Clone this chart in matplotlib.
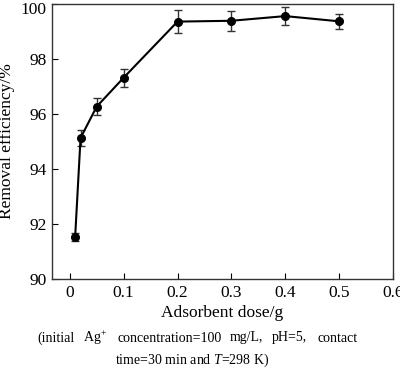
import matplotlib
matplotlib.use("Agg")
import matplotlib.pyplot as plt
import matplotlib.transforms as mtransforms

plt.rcParams['font.family'] = ['Liberation Serif', 'DejaVu Serif']
plt.rcParams['mathtext.fontset'] = 'custom'
plt.rcParams['mathtext.rm'] = 'Liberation Serif'
plt.rcParams['mathtext.it'] = 'Liberation Serif:italic'

dose = [0.01, 0.02, 0.05, 0.1, 0.2, 0.3, 0.4, 0.5]
removal = [91.54, 95.13, 96.27, 97.32, 99.36, 99.39, 99.56, 99.37]
err = [0.15, 0.3, 0.3, 0.33, 0.42, 0.37, 0.33, 0.28]
xticks = [0, 0.1, 0.2, 0.3, 0.4, 0.5, 0.6]
xticklabels = ['0', '0.1', '0.2', '0.3', '0.4', '0.5', '0.6']
yticks = [90, 92, 94, 96, 98, 100]
caption_words = ['(initial', 'Ag$^{+}$', 'concentration=100', 'mg/L,', 'pH=5,', 'contact']
caption_line2 = 'time=30 min and $T$=298 K)'

fig = plt.figure(figsize=(4.0, 3.71), dpi=100)
ax = fig.add_axes([52/400, 1-279/371, (393-52)/400, (279-4)/371])
ax.errorbar(dose, removal, yerr=err, color='black', marker='o', markersize=5.5,
            linewidth=1.5, elinewidth=1.0, capsize=3, capthick=1.0, ecolor='#333333')
ax.set_xlim(-0.033, 0.6)
ax.set_ylim(90, 100)
ax.set_xticks(xticks)
ax.set_xticklabels(xticklabels)
ax.set_yticks(yticks)
ax.tick_params(direction='in', length=4, labelsize=12.5, top=False, right=False, pad=4)
for s in ax.spines.values():
    s.set_linewidth(1.0)
    s.set_color('#333333')
ax.set_xlabel('Adsorbent dose/g', fontsize=12.5, labelpad=3)
ax.set_ylabel('Removal efficiency/%', fontsize=12.5, labelpad=4)

# nudge the top tick label down so it stays inside the figure
top_lbl = ax.get_yticklabels()[-1]
top_lbl.set_transform(top_lbl.get_transform() +
                      mtransforms.ScaledTranslation(0, -3/72, fig.dpi_scale_trans))

word_x = [37, 83, 117, 230, 272, 318]
for wx, w in zip(word_x, caption_words):
    fig.text(wx/400, 1-338/371, w, ha='left', va='center', fontsize=10)
fig.text(192/400, 1-360/371, caption_line2, ha='center', va='center', fontsize=10)

fig.savefig('out.png', dpi=100)
